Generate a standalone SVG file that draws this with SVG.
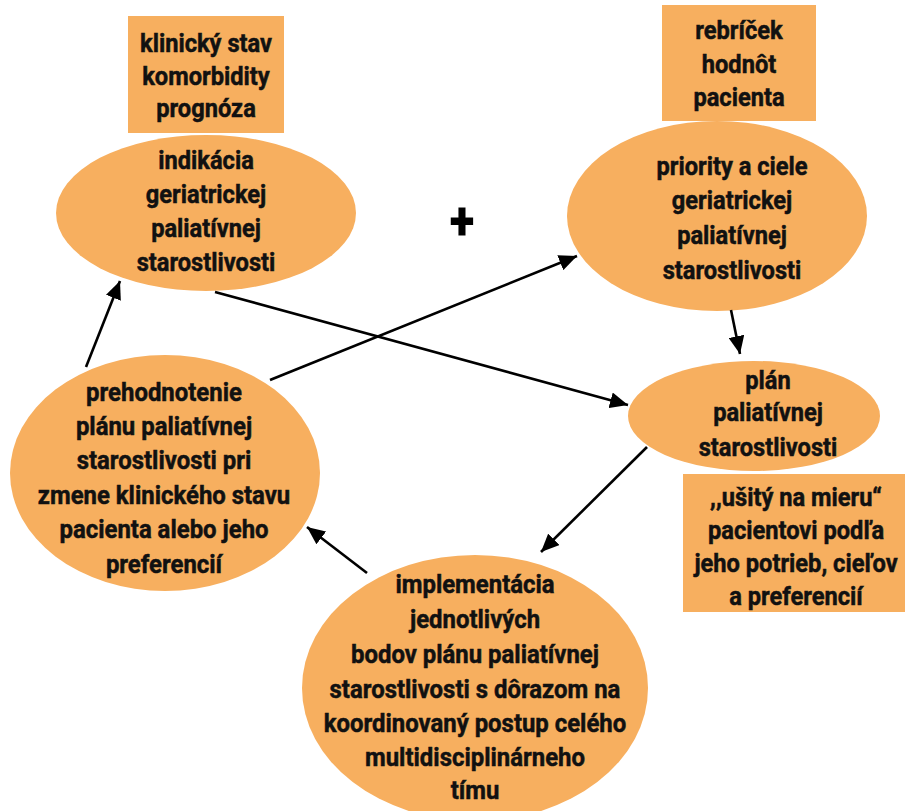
<svg xmlns="http://www.w3.org/2000/svg" width="905" height="811" viewBox="0 0 905 811">
<defs>
<style>
.sh{fill:#F7AF5F;stroke:none}
.t{font-family:Roboto,"Liberation Sans",sans-serif;font-weight:700;font-size:26px;fill:#111;stroke:#111;stroke-width:0.5;text-anchor:middle}
.c{stroke:#000;stroke-width:2.6;fill:none;marker-end:url(#ah)}
</style>
<marker id="ah" markerUnits="userSpaceOnUse" markerWidth="20" markerHeight="16" refX="18" refY="8" orient="auto">
<path d="M0,0 L18,8 L0,16 Z" fill="#000"/>
</marker>
</defs>
<rect width="905" height="811" fill="#fff"/>

<g id="indikacia">
<ellipse class="sh" cx="206" cy="213" rx="150" ry="78"/>
<g transform="translate(206,0) scale(0.91,1)">
<text class="t" x="0" y="169">indikácia</text>
<text class="t" x="0" y="203">geriatrickej</text>
<text class="t" x="0" y="237">paliatívnej</text>
<text class="t" x="0" y="271">starostlivosti</text>
</g>
</g>

<g id="box-klinicky">
<rect class="sh" x="128" y="16" width="156" height="117"/>
<g transform="translate(206,0) scale(0.91,1)">
<text class="t" x="0" y="52">klinický stav</text>
<text class="t" x="0" y="85">komorbidity</text>
<text class="t" x="0" y="117">prognóza</text>
</g>
</g>

<g id="priority">
<ellipse class="sh" cx="717" cy="216" rx="150" ry="95"/>
<g transform="translate(732,0) scale(0.91,1)">
<text class="t" x="0" y="175">priority a ciele</text>
<text class="t" x="0" y="209">geriatrickej</text>
<text class="t" x="0" y="244">paliatívnej</text>
<text class="t" x="0" y="279">starostlivosti</text>
</g>
</g>

<g id="box-rebricek">
<rect class="sh" x="662" y="5" width="154" height="116"/>
<g transform="translate(739,0) scale(0.91,1)">
<text class="t" x="0" y="39">rebríček</text>
<text class="t" x="0" y="73">hodnôt</text>
<text class="t" x="0" y="106">pacienta</text>
</g>
</g>

<g id="plus">
<text x="0" y="239" transform="translate(462,0) scale(0.85,1)" style="font-family:Roboto,'Liberation Sans',sans-serif;font-weight:900;font-size:54px;fill:#000;text-anchor:middle">+</text>
</g>

<g id="plan">
<ellipse class="sh" cx="754" cy="416" rx="126" ry="55"/>
<g transform="translate(768,0) scale(0.91,1)">
<text class="t" x="0" y="389">plán</text>
<text class="t" x="0" y="421">paliatívnej</text>
<text class="t" x="0" y="456">starostlivosti</text>
</g>
</g>

<g id="box-usity">
<rect class="sh" x="683" y="474" width="222" height="138"/>
<g transform="translate(796,0) scale(0.91,1)">
<text class="t" x="0" y="506">,,ušitý na mieru“</text>
<text class="t" x="0" y="539">pacientovi podľa</text>
<text class="t" x="0" y="572">jeho potrieb, cieľov</text>
<text class="t" x="0" y="605">a preferencií</text>
</g>
</g>

<g id="prehodnotenie">
<ellipse class="sh" cx="165" cy="473" rx="155" ry="118"/>
<g transform="translate(164,0) scale(0.92,1)">
<text class="t" x="0" y="401">prehodnotenie</text>
<text class="t" x="0" y="435">plánu paliatívnej</text>
<text class="t" x="0" y="469">starostlivosti pri</text>
<text class="t" x="0" y="504">zmene klinického stavu</text>
<text class="t" x="0" y="538">pacienta alebo jeho</text>
<text class="t" x="0" y="573">preferencií</text>
</g>
</g>

<g id="implementacia">
<ellipse class="sh" cx="475" cy="688" rx="173" ry="133"/>
<g transform="translate(475,0) scale(0.92,1)">
<text class="t" x="0" y="593">implementácia</text>
<text class="t" x="0" y="628">jednotlivých</text>
<text class="t" x="0" y="663">bodov plánu paliatívnej</text>
<text class="t" x="0" y="698">starostlivosti s dôrazom na</text>
<text class="t" x="0" y="732">koordinovaný postup celého</text>
<text class="t" x="0" y="766">multidisciplinárneho</text>
<text class="t" x="0" y="799">tímu</text>
</g>
</g>

<g id="connectors">
<line class="c" x1="86" y1="367" x2="120" y2="281"/>
<line class="c" x1="270" y1="380" x2="577" y2="256"/>
<line class="c" x1="215" y1="292" x2="628" y2="405"/>
<line class="c" x1="731" y1="310" x2="740" y2="354"/>
<line class="c" x1="647" y1="447" x2="541" y2="552"/>
<line class="c" x1="367" y1="573" x2="307" y2="527"/>
</g>
</svg>
